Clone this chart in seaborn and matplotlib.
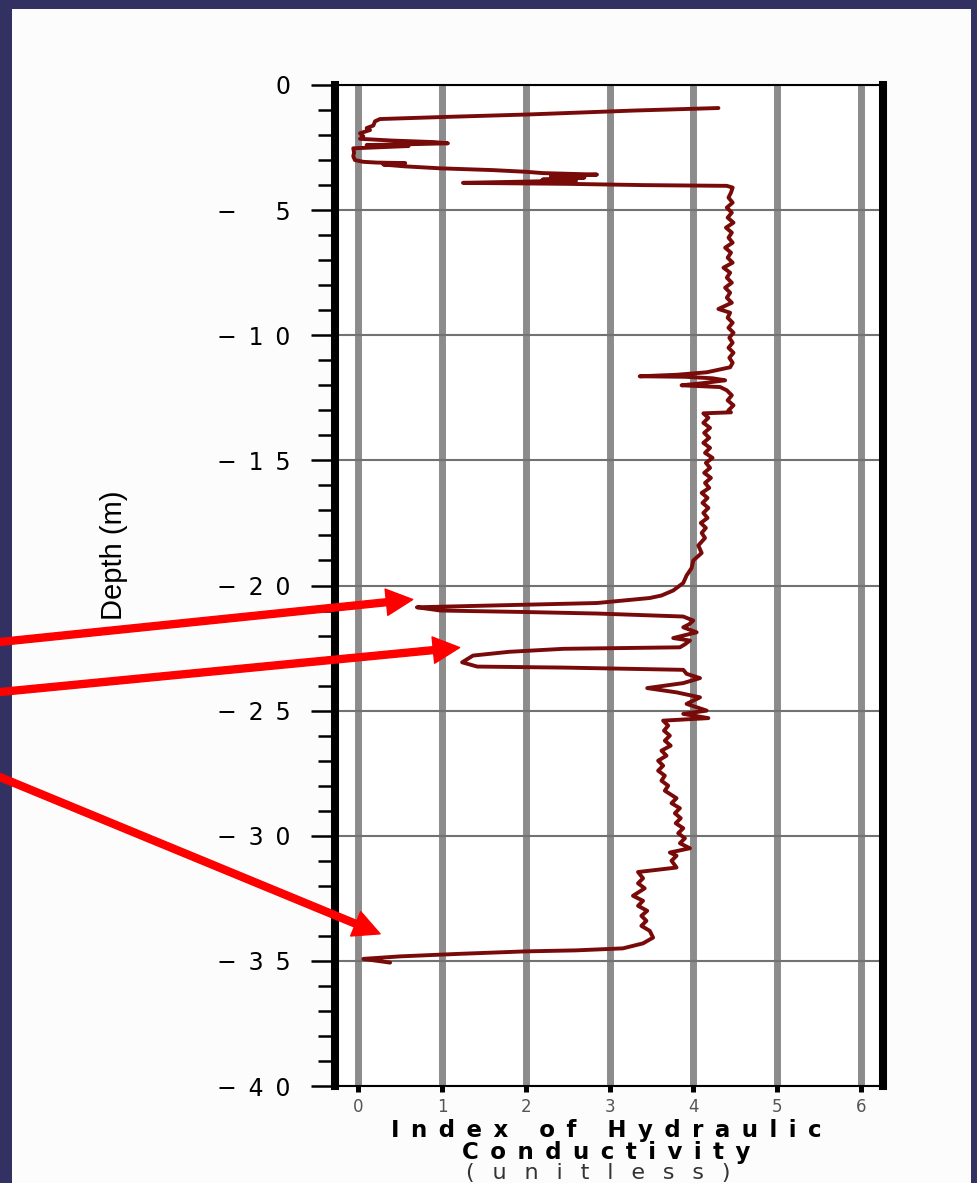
import numpy as np
import pandas as pd
import matplotlib
matplotlib.use("Agg")
import matplotlib.pyplot as plt
from matplotlib import font_manager
from matplotlib.patches import Rectangle
from matplotlib.ticker import FixedLocator, MultipleLocator, FuncFormatter
import seaborn as sns

# ---------------------------------------------------------------------------
# Hydraulic-conductivity log (index vs. depth), read top to bottom
# ---------------------------------------------------------------------------
depth_m = [
    -0.92, -1.02, -1.18, -1.28, -1.36, -1.45, -1.62, -1.72, -1.80, -1.93,
    -2.05, -2.15, -2.22, -2.28, -2.33, -2.36, -2.40, -2.44, -2.53, -2.70,
    -2.85, -3.00, -3.07, -3.10, -3.12, -3.18, -3.25, -3.33, -3.40, -3.47,
    -3.52, -3.58, -3.65, -3.70, -3.78, -3.82, -3.91, -3.95, -4.00, -4.03,
    -4.10, -4.30,
    -4.5, -4.7, -4.9, -5.1, -5.3, -5.5, -5.7, -5.9, -6.1, -6.3,
    -6.5, -6.7, -6.9, -7.1, -7.3, -7.5, -7.7, -7.9, -8.1, -8.3,
    -8.5, -8.7, -8.95, -9.1, -9.3, -9.5, -9.7, -9.9, -10.1, -10.3,
    -10.5, -10.7, -10.9, -11.1, -11.28,
    -11.48, -11.58, -11.64, -11.66, -11.72, -11.80, -11.92, -12.0, -12.07, -12.2,
    -12.4, -12.6, -12.8, -13.0, -13.08, -13.12,
    -13.3, -13.5, -13.7, -13.9, -14.1, -14.3, -14.5, -14.7, -14.9, -15.1,
    -15.3, -15.5, -15.7, -15.9, -16.1, -16.3, -16.5, -16.7, -16.9, -17.1,
    -17.3, -17.5, -17.7, -17.9, -18.1, -18.4, -18.7, -19.0, -19.3, -19.6,
    -19.9, -20.2, -20.4, -20.5, -20.7, -20.8, -20.87, -21.0, -21.06, -21.12,
    -21.24, -21.4, -21.55, -21.67, -21.87, -22.1, -22.2, -22.35, -22.47, -22.53,
    -22.65, -22.8, -23.07, -23.24, -23.28, -23.37, -23.53, -23.7, -23.9, -24.1,
    -24.27, -24.47, -24.73, -25.0, -25.13, -25.3, -25.4,
    -25.6, -25.8, -26.0, -26.2, -26.4, -26.6, -26.8, -27.0, -27.2, -27.4,
    -27.6, -27.8, -28.0, -28.2, -28.5, -28.7, -28.9, -29.1, -29.3, -29.5,
    -29.7, -29.9, -30.1, -30.3, -30.5, -30.67, -30.8, -31.0, -31.27, -31.45,
    -31.7, -31.9, -32.1, -32.4, -32.6, -32.8, -33.0, -33.2, -33.4, -33.6,
    -33.8, -34.07, -34.3, -34.5, -34.58, -34.62, -34.72, -34.82, -34.92, -35.07,
]

k_index = [
    4.30, 3.30, 2.01, 1.00, 0.26, 0.20, 0.18, 0.10, 0.14, 0.02,
    0.06, 0.02, 0.40, 0.90, 1.07, 0.70, 0.10, 0.60, -0.06, -0.05,
    -0.06, -0.04, 0.06, 0.22, 0.56, 0.30, 0.55, 0.98, 1.60, 2.01,
    2.20, 2.85, 2.30, 2.70, 2.20, 2.60, 1.25, 2.50, 3.40, 4.40,
    4.47, 4.45,
    4.42, 4.47, 4.40, 4.46, 4.41, 4.48, 4.39, 4.46, 4.42, 4.47,
    4.38, 4.45, 4.41, 4.47, 4.36, 4.44, 4.40, 4.46, 4.38, 4.44,
    4.40, 4.46, 4.30, 4.44, 4.41, 4.47, 4.42, 4.48, 4.43, 4.47,
    4.42, 4.48, 4.43, 4.47, 4.44,
    4.16, 3.80, 3.36, 3.90, 4.23, 4.38, 4.10, 3.86, 4.32, 4.40,
    4.46, 4.41, 4.48, 4.42, 4.45, 4.12,
    4.18, 4.12, 4.20, 4.13, 4.19, 4.12, 4.20, 4.14, 4.23, 4.15,
    4.20, 4.13, 4.21, 4.14, 4.19, 4.10, 4.17, 4.11, 4.18, 4.12,
    4.17, 4.09, 4.15, 4.10, 4.14, 4.06, 4.10, 4.00, 3.98, 3.92,
    3.88, 3.76, 3.62, 3.48, 2.85, 1.60, 0.70, 0.98, 2.00, 2.85,
    3.88, 4.00, 3.95, 3.88, 4.04, 3.76, 3.96, 3.90, 3.84, 2.45,
    1.80, 1.37, 1.24, 1.42, 2.45, 3.88, 3.92, 4.08, 3.88, 3.45,
    3.80, 4.08, 3.92, 4.16, 3.88, 4.18, 3.64,
    3.70, 3.65, 3.72, 3.66, 3.73, 3.62, 3.68, 3.58, 3.64, 3.58,
    3.66, 3.62, 3.70, 3.66, 3.80, 3.74, 3.84, 3.78, 3.85, 3.79,
    3.88, 3.82, 3.90, 3.84, 3.96, 3.72, 3.80, 3.74, 3.80, 3.34,
    3.40, 3.34, 3.42, 3.28, 3.40, 3.34, 3.45, 3.38, 3.44, 3.38,
    3.48, 3.52, 3.40, 3.16, 2.60, 2.00, 1.20, 0.50, 0.06, 0.38,
]

x_ticks = [0, 1, 2, 3, 4, 5, 6]
y_ticks = [0, -5, -10, -15, -20, -25, -30, -35, -40]
x_limits = (-0.278, 6.265)
y_limits = (-40, 0)

# Callout arrows: tip (index, depth) and tail (figure pixels, from top-left)
arrow_tip_index = [0.65, 1.21, 0.26]
arrow_tip_depth = [-20.56, -22.48, -33.92]
arrow_tail_px = [(-10, 643), (-10, 693), (-10, 773)]

x_label_lines = ["Index of Hydraulic", "Conductivity", "(unitless)"]
y_label = "Depth (m)"

# ---------------------------------------------------------------------------
W, H = 977, 1183
NAVY = "#333161"
PANEL = "#FCFCFC"
CURVE = "#780A0A"
ARROW = "#FF0000"

sns.set_theme(style="white")
plt.rcParams["font.family"] = ["DejaVu Sans"]

installed = {f.name for f in font_manager.fontManager.ttflist}
narrow_family = [f for f in ("Liberation Sans Narrow", "Liberation Sans")
                 if f in installed] + ["DejaVu Sans"]

EN = "\u2002"
THIN = "\u2009"
HAIR = "\u200a"
FIGSP = "\u2007"


def spaced(text, gap):
    """Letter-space a label: gap between letters, wider gap between words."""
    words = text.split(" ")
    return (gap + " " + gap).join(gap.join(w) for w in words)


def depth_label(v, pos):
    n = int(round(v))
    if n == 0:
        return "0"
    digits = str(abs(n)).rjust(2, FIGSP)
    return EN.join(["\u2212"] + list(digits))


fig = plt.figure(figsize=(W / 100, H / 100), dpi=100, facecolor=NAVY)
fig.patches.append(Rectangle((12 / W, 0), (971 - 12) / W, 1 - 9 / H,
                             transform=fig.transFigure, facecolor=PANEL,
                             edgecolor="none", zorder=-10))

ax = fig.add_axes([335 / W, 1 - 1086 / H, 548 / W, 1001 / H])
ax.set_facecolor("white")

df = pd.DataFrame({"index": k_index, "depth": depth_m})
sns.lineplot(data=df, x="index", y="depth", sort=False, estimator=None,
             color=CURVE, linewidth=2.8, ax=ax, zorder=3)

ax.set_xlim(*x_limits)
ax.set_ylim(*y_limits)
ax.xaxis.set_major_locator(FixedLocator(x_ticks))
ax.yaxis.set_major_locator(FixedLocator(y_ticks))
ax.yaxis.set_minor_locator(MultipleLocator(1))
ax.yaxis.set_major_formatter(FuncFormatter(depth_label))
ax.set_xticklabels([str(t) for t in x_ticks])

ax.set_axisbelow(True)
ax.grid(False)
ax.grid(axis="x", which="major", color="#8C8C8C", linewidth=5.0)
ax.grid(axis="y", which="major", color="#727272", linewidth=1.5)

for side in ("left", "right"):
    ax.spines[side].set_linewidth(5.8)
    ax.spines[side].set_color("black")
for side in ("top", "bottom"):
    ax.spines[side].set_linewidth(1.5)
    ax.spines[side].set_color("black")
    ax.spines[side].set_visible(True)

ax.tick_params(axis="y", which="major", direction="out", length=17, width=1.8,
               pad=15, labelsize=17, colors="black", left=True)
ax.tick_params(axis="y", which="minor", direction="out", length=12, width=1.8,
               colors="black", left=True)
ax.tick_params(axis="x", which="major", direction="out", length=4.5, width=3.6,
               pad=4, labelsize=12, color="black", labelcolor="#555555",
               bottom=True)

ax.set_xlabel("")
ax.set_ylabel(y_label, fontsize=21, color="black", family=narrow_family)
ax.yaxis.set_label_coords((128 - 335) / 548, (1086 - 555) / 1001)

# Three-line axis title under the index axis
fig.text(606 / W, 1 - 1131 / H, spaced(x_label_lines[0], EN), ha="center",
         va="center", fontsize=16.5, fontweight="bold", color="black")
fig.text(606 / W, 1 - 1152 / H, spaced(x_label_lines[1], EN), ha="center",
         va="center", fontsize=16.5, fontweight="bold", color="black")
fig.text(598 / W, 1 - 1173 / H, spaced(x_label_lines[2], EN + THIN + HAIR),
         ha="center", va="center", fontsize=16, color="#333333")

# Red callout arrows pointing at the low-conductivity layers
for xi, di, (tx, ty) in zip(arrow_tip_index, arrow_tip_depth, arrow_tail_px):
    ax.annotate("", xy=(xi, di), xycoords="data",
                xytext=(tx, H - ty), textcoords="figure pixels",
                annotation_clip=False,
                arrowprops=dict(arrowstyle="simple,head_length=19,head_width=19,tail_width=5",
                                mutation_scale=1, color=ARROW, shrinkA=0, shrinkB=0),
                zorder=6)

fig.savefig("out.png", dpi=100, facecolor=NAVY)
